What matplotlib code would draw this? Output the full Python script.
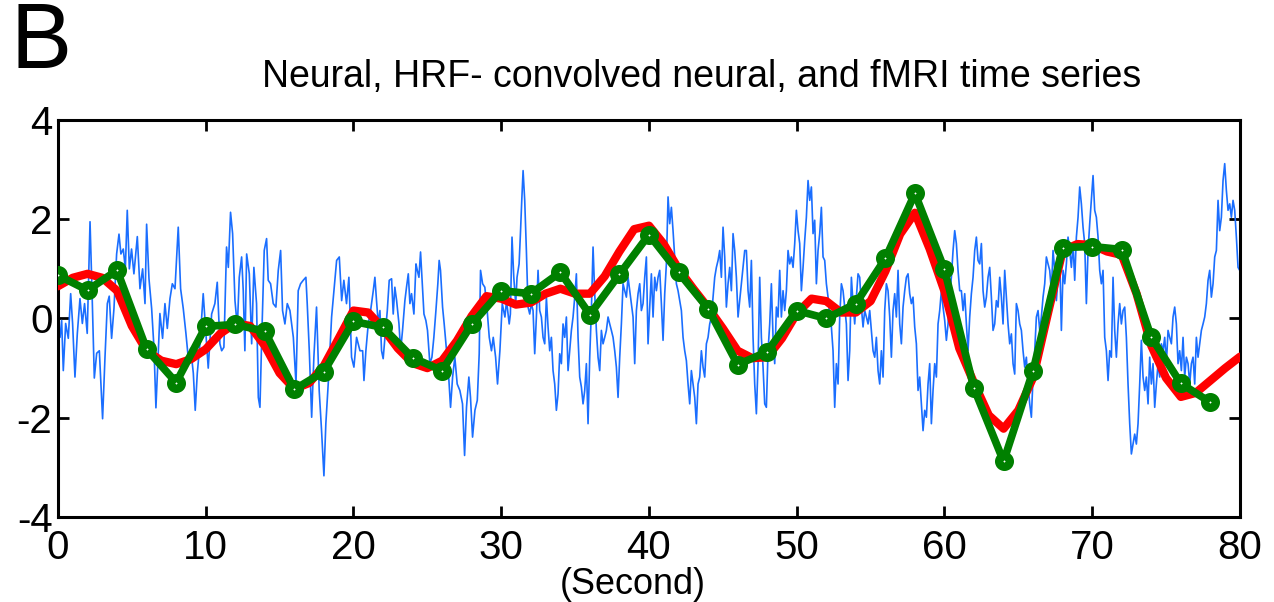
import numpy as np
import matplotlib
matplotlib.use("Agg")
import matplotlib.pyplot as plt
from matplotlib import font_manager

# ---------------- data ----------------
# fMRI samples (green), one every 2 s
fmri_t = np.arange(0, 80, 2)
fmri_v = [0.87, 0.57, 0.97, -0.62, -1.29, -0.16, -0.12, -0.26, -1.43, -1.07,
          -0.06, -0.18, -0.79, -1.05, -0.12, 0.56, 0.50, 0.93, 0.08, 0.89,
          1.69, 0.93, 0.20, -0.93, -0.67, 0.16, 0.0, 0.30, 1.21, 2.52,
          0.99, -1.41, -2.88, -1.05, 1.43, 1.45, 1.39, -0.38, -1.31, -1.69]

# HRF-convolved neural (red), one every 1 s
hrf_t = np.arange(0, 81, 1)
hrf_v = [0.65, 0.82, 0.90, 0.82, 0.56, -0.15, -0.65, -0.85, -0.92, -0.82,
         -0.62, -0.30, -0.10, -0.15, -0.55, -1.10, -1.42, -1.30, -0.95, -0.40,
         0.16, 0.12, -0.20, -0.60, -0.90, -1.00, -0.85, -0.45, 0.05, 0.45,
         0.40, 0.28, 0.32, 0.50, 0.60, 0.50, 0.50, 0.85, 1.35, 1.80,
         1.87, 1.50, 1.00, 0.60, 0.22, -0.20, -0.65, -0.80, -0.78, -0.40,
         0.10, 0.40, 0.35, 0.12, 0.12, 0.35, 0.95, 1.70, 2.13, 1.40,
         0.55, -0.60, -1.30, -1.95, -2.22, -1.85, -1.19, 0.10, 1.37, 1.50,
         1.48, 1.35, 1.28, 0.50, -0.55, -1.20, -1.58, -1.50, -1.25, -1.00, -0.77]

# neural (blue), first part read at uneven times
neural_t_early = [0.0, 0.14, 0.25, 0.36, 0.52, 0.7, 0.86, 0.99, 1.15, 1.31, 1.49, 1.65, 1.8, 1.98,
                  2.17, 2.3, 2.46, 2.62, 2.8, 3.02, 3.18, 3.34, 3.47, 3.63, 3.79, 3.97, 4.13, 4.26,
                  4.42, 4.56, 4.69, 4.83, 4.98, 5.14, 5.37, 5.55, 5.73, 5.89, 6.0, 6.16, 6.34, 6.5,
                  6.63, 6.77, 6.9, 7.08, 7.24, 7.4, 7.58, 7.74, 7.92, 8.14, 8.3, 8.48, 8.66, 8.82,
                  8.98, 9.16, 9.29, 9.43, 9.61, 9.83, 10.01, 10.17,
                  10.4, 10.62, 10.78, 10.96, 11.08, 11.23, 11.41, 11.53, 11.68, 11.82, 11.98, 12.14,
                  12.27, 12.43, 12.54, 12.65, 12.77, 12.95, 13.11, 13.26, 13.44, 13.56, 13.67, 13.78,
                  13.96, 14.12, 14.23, 14.39, 14.57, 14.75, 14.91, 15.07, 15.2, 15.36, 15.52, 15.7,
                  15.93, 16.11, 16.26, 16.42, 16.6, 16.78, 16.87, 17.01, 17.17, 17.32, 17.5, 17.68,
                  17.84, 18.0, 18.13, 18.29, 18.52, 18.74, 18.86, 19.04, 19.2, 19.35, 19.53, 19.69,
                  19.87, 20.03, 20.21, 20.44,
                  20.62, 20.71, 20.84, 21.0, 21.16, 21.34, 21.45, 21.56, 21.68, 21.79, 21.9, 22.01,
                  22.13, 22.29, 22.42, 22.58, 22.69, 22.8, 22.92, 23.08, 23.19, 23.32, 23.48, 23.59,
                  23.71, 23.82, 23.93, 24.09, 24.23, 24.32, 24.43, 24.54, 24.68, 24.77, 24.9, 25.01,
                  25.17, 25.31, 25.44, 25.58, 25.71, 25.8, 25.89, 26.03, 26.14, 26.3, 26.46, 26.57,
                  26.71, 26.86, 27.02, 27.2, 27.38, 27.52, 27.65, 27.81, 27.92, 28.06, 28.22, 28.38,
                  28.51, 28.6, 28.74, 28.89, 29.05, 29.19, 29.34, 29.46, 29.62, 29.75, 29.91, 30.07,
                  30.25, 30.36, 30.54,
                  30.62, 30.73, 30.85, 30.98, 31.07, 31.21, 31.3, 31.39, 31.48]
neural_v_early = [-0.3, -0.38, -0.04, -1.05, -0.1, -0.4, 0.5, -0.1, -1.18, -0.3, 0.4, -0.1, 0.3, -0.3,
                  1.95, 0.6, -1.2, -0.7, -0.65, -2.02, -0.8, 0.3, 0.45, -0.4, 0.2, 1.3, 1.7, 1.3,
                  1.4, 1.0, 2.18, 1.0, 1.4, 0.9, 1.65, 0.6, 1.0, 0.3, 1.9, 0.8, 0.2, -0.6,
                  -1.8, -0.8, 0.1, -0.4, 0.3, -0.2, 0.4, 0.7, 0.6, 1.84, 0.6, 0.2, -0.3, -0.8,
                  -0.6, -1.1, -1.85, -1.1, -0.5, 0.5, -0.3, -1.0,
                  0.09, 0.3, 0.73, -0.51, -0.65, -0.58, 1.44, 1.03, 2.14, 1.71, 0.36, -0.17,
                  0.83, 1.24, 0.56, -0.65, 1.3, 0.9, -0.51, 1.03, 0.3, -1.59, -1.79, -0.51,
                  1.37, 1.61, 0.77, 0.7, 0.3, 0.23, 0.97, 1.37, 0.16, -0.11, 0.3, 0.16,
                  -0.38, -1.32, 0.56, 0.7, 0.77, 0.83, 0.3, -0.65, -1.99, -0.78, 0.23, -1.45,
                  -2.26, -3.17, -2.12, -1.32, 0.03, 0.77, 1.17, 1.24, 0.36, 0.77, 0.3, 0.83,
                  -0.78, -0.98, -0.38, -0.65,
                  -0.65, -1.25, -0.65, -0.11, 0.16, 0.56, 0.83, 0.36, -0.11, 0.16, -0.65, -0.81,
                  -0.38, 0.16, 0.77, 0.8, 0.09, 0.63, 0.36, -0.11, -0.65, -0.24, 0.36, 0.63,
                  0.9, 0.3, 0.5, 0.09, 1.1, 0.97, 0.83, 1.34, 0.56, 0.09, -0.04, -0.24,
                  -0.91, -0.78, -0.38, 0.16, 0.7, 1.17, 0.97, 0.23, -0.11, -0.65, -1.25, -1.79,
                  -1.18, -0.78, -1.32, -1.45, -1.72, -2.76, -1.79, -1.18, -1.59, -2.39, -1.85, -1.65,
                  -0.71, 0.97, 0.7, 0.63, 0.16, -0.38, -0.65, -0.38, -0.78, -1.32, -0.65, 0.3,
                  0.03, 0.36, -0.11,
                  0.09, 1.64, 0.83, 0.3, 0.83, 1.1, 1.71, 2.38, 2.98]

# neural (blue), rest read at an even step
neural_start = 31.59
neural_dt = 0.1128
neural_v_late = [2.38, 1.37, 0.23, 0.09, 0.3, 0.16, -0.71, 0.03, 0.97, 0.16,
                 0.03, -0.38, -0.51, 0.43, -0.17, -0.65, -0.38, -1.05, -1.32, -1.85,
                 -1.52, -0.71, -0.91, -0.11, -0.38, 0.03, -1.05, -0.65, -0.24, 0.03,
                 0.43, 0.9, -0.38, -1.18, -1.38, -1.72, -1.45, -0.91, -2.12, -0.78,
                 0.16, 1.44, 0.5, -0.24, -0.78, -1.05, -0.24, -0.51, -0.38, -0.24,
                 0.03, -0.11, -0.24, -0.38, -0.65, -0.98, -1.59, -0.78, -0.11, 0.7,
                 0.56, 0.43, 0.83, 0.56, 0.3, 0.03, -0.91, 0.16, 0.5, 0.7,
                 0.16, 0.3, 0.83, 1.24, -0.51, 0.23, 0.9, 0.03, 0.83, 0.56,
                 0.83, 0.97,
                 0.3, -0.44, 0.5, 1.1, 2.45, 1.91, 2.24, 1.77, 1.24, 0.7,
                 0.56, 0.36, 0.16, -0.38, -0.65, -0.85, -1.32, -1.72, -1.05, -1.32,
                 -1.59, -2.12, -1.32, -1.18, -0.65, -0.98, -1.18, -0.51, -0.38, -0.11,
                 0.03, 0.43, 0.83, 1.03, 1.17, 1.37, 0.83, 1.84, 1.24, 0.23,
                 0.7, 1.03, 0.56, 1.71, 1.37, 0.83, 0.03, 0.36, 0.7, 1.03,
                 1.37, 1.37, 0.56, 0.23, 1.17, -0.38, -1.32, -1.92, -0.91, 0.83,
                 -0.38, -0.98, -1.72, -1.79, -0.65, -0.11, 0.7, -0.38, -0.91, 0.23,
                 0.03, 0.97, 0.03, 0.56, 0.16, 0.56, 1.37, 1.1, 1.24, 1.03,
                 1.51, 2.18, 1.77, 1.51, 0.56, 1.03, 1.57, 2.04, 2.78, 2.38,
                 2.65, 1.71, 1.98, 0.7, 1.37, 1.71, 2.24, 1.24, 1.17, 0.7,
                 0.43, 0.03, -0.17, -0.65, -1.79, -0.91, -1.32, 0.03, 0.7, 0.56,
                 0.23, -0.11, -1.25, -0.65, 0.83, 0.3, -0.11, 0.43, 0.9, 0.83,
                 0.23, -0.17, 0.16, 0.03, -0.11, 0.16, -0.24, -0.65, -0.78, -0.38,
                 -1.05, -1.32, -0.65, -1.18, 0.16, 0.7, 0.56, 0.03, -0.78, 0.16,
                 0.5, 0.03, 0.97, -0.11, -0.51, 0.23, 0.56, 0.83, 0.9, 0.5,
                 0.3, 0.43, -0.17, -0.51, -1.45, -1.18, -1.72, -2.26, -1.85, -1.99,
                 -1.32, -0.91, -2.12, -1.45, -0.91, -1.18, -0.11, 0.16, 0.56, 0.23,
                 -0.04, -0.44, -0.11, 0.5, 0.83, 1.37, 1.77, 1.51, 0.97, 0.56,
                 0.56, 0.16, 0.5, -0.11, -0.65, 0.03, 0.5, 0.83, 1.37, 1.64,
                 1.17, 1.1, 1.51, 0.56, 0.23, 0.43, 0.83, 1.03, 0.43, -0.24,
                 -0.11, 0.36, 0.23, 0.83, 0.43, -0.11, 0.97, 0.43, -0.11, -0.51,
                 -0.31, -0.91, -1.12, 0.3, 0.16, -0.11, -0.24, -0.65, -0.98, -0.78,
                 -1.32, -1.72, -1.99, -1.18, -0.65, 0.03, 0.16, -0.24, 0.03, 0.43,
                 0.7, 1.24, 1.1, 0.97, 0.56, 1.37, 0.97, 0.36, 0.83, 1.24,
                 -0.24, 0.97, 0.7, 1.1, 1.64, 1.37, 1.03, 1.51, 0.77, 1.64,
                 2.04, 2.65, 2.31, 1.84, 1.51, 0.3, 1.37, 1.91, 2.38, 2.88,
                 2.18, 2.04, 1.64, 0.97, 0.7, 0.97, -0.38, -0.65, -1.25, -0.65,
                 -0.78, 0.83, -0.24, -0.78, -0.11, 0.3, -0.11, 0.16, 0.23, -0.38,
                 -1.32, -2.12, -2.73, -2.53, -2.33, -2.53, -2.12, -1.32, -0.44, -1.18,
                 -1.45, -1.18, -1.72, -0.78, -1.32, -0.91, -1.79, -1.32, -0.91, -1.18,
                 -0.51, -0.65, -0.38, -0.91, -0.24, -0.38, -0.51, 0.03, 0.23, -0.11,
                 -0.91, -0.65, -1.05, -0.38, -1.18, -0.78, -0.91, -1.32, -0.91, -0.78,
                 -1.32, -0.38, -0.78, -0.51, -0.24, -0.11, 0.03, 0.3, 0.77, 0.97,
                 0.43, 0.7, 1.24, 1.37, 2.38, 1.77, 2.04, 2.78, 3.12, 2.58,
                 2.18, 2.31, 2.04, 2.38, 2.18, 1.64, 1.03, 0.97]

x_ticks = [0, 10, 20, 30, 40, 50, 60, 70, 80]
y_ticks = [-4, -2, 0, 2, 4]

# ---------------- fonts ----------------
installed = {f.name for f in font_manager.fontManager.ttflist}
narrow = "Liberation Sans Narrow" if "Liberation Sans Narrow" in installed else "DejaVu Sans Condensed"
plt.rcParams['font.family'] = [narrow, 'Liberation Sans', 'DejaVu Sans']
plt.rcParams['axes.unicode_minus'] = False


def fit_width(txt, width_px, renderer):
    # scale the font so the text spans about width_px pixels
    w = txt.get_window_extent(renderer).width
    txt.set_fontsize(txt.get_fontsize() * width_px / w)


# ---------------- plotting ----------------
neural_t = np.concatenate([neural_t_early, neural_start + neural_dt * np.arange(len(neural_v_late))])
neural_v = np.concatenate([neural_v_early, neural_v_late])

fig = plt.figure(figsize=(12.74, 6.02), dpi=100)
ax = fig.add_axes([0.0455, 0.1412, 0.9278, 0.6595])

ax.plot(neural_t, neural_v, color='#1a6eff', linewidth=1.2, zorder=2)
ax.plot(hrf_t, hrf_v, color='red', linewidth=6, solid_capstyle='round',
        solid_joinstyle='round', zorder=3)
ax.plot(fmri_t, fmri_v, color='#008000', linewidth=5.5, marker='o', markersize=7.7,
        markerfacecolor='white', markeredgecolor='#008000', markeredgewidth=6,
        solid_joinstyle='round', zorder=4)

ax.set_xlim(0, 80)
ax.set_ylim(-4, 4)
ax.set_xticks(x_ticks)
ax.set_yticks(y_ticks)
ax.tick_params(direction='in', length=8, width=2, labelsize=29, top=True, right=True)
ax.tick_params(axis='x', pad=9)
ax.tick_params(axis='y', pad=4)
for s in ax.spines.values():
    s.set_linewidth(2.2)

title = fig.text(702 / 1274, 1 - 77 / 602, "Neural, HRF- convolved neural, and fMRI time series",
                 fontsize=28, ha='center', va='center')
xlab = fig.text(633 / 1274, 1 - 584 / 602, "(Second)", fontsize=22, ha='center', va='center')
fig.text(11 / 1274, 1 - 44 / 602, "B", fontsize=66, family=['Liberation Sans', 'DejaVu Sans'],
         ha='left', va='center')

renderer = fig.canvas.get_renderer()
fit_width(title, 880, renderer)
fit_width(xlab, 146, renderer)

fig.savefig("out.png", dpi=100)
